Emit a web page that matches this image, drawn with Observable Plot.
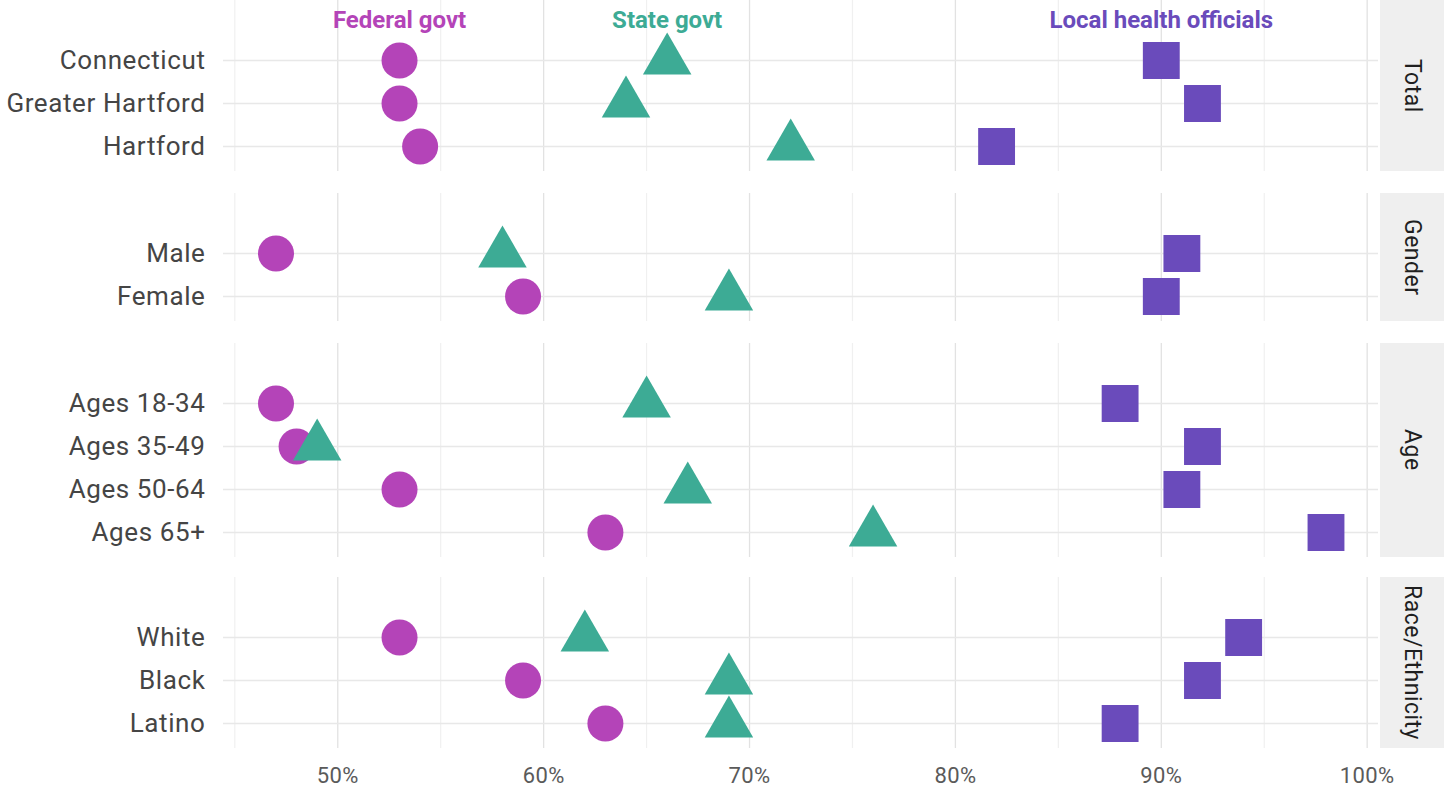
<!DOCTYPE html>
<html><head><meta charset="utf-8">
<script src="https://cdn.jsdelivr.net/npm/d3@7"></script>
<script src="https://cdn.jsdelivr.net/npm/@observablehq/plot@0.6"></script>
<style>
body{margin:0;background:#fff;font-family:Roboto,"Noto Sans",sans-serif;}
#chart{width:1444px;}
.row{display:flex;align-items:flex-start;}
.row svg{display:block;}
.strip{width:64px;margin-left:2px;background:#efefef;display:flex;align-items:center;justify-content:center;box-sizing:border-box;overflow:hidden;}
.strip span{writing-mode:vertical-rl;font-size:23px;letter-spacing:0.5px;color:#1f1f1f;font-family:Roboto,sans-serif;white-space:nowrap;}
g[aria-label="y-axis tick label"] text{letter-spacing:0.6px;}
g[aria-label="x-axis tick label"] text{letter-spacing:0.4px;}
g[aria-label="series-label"] text{letter-spacing:0.6px;}
</style></head><body><div id="chart"></div>
<script>
// ---- data ----
const groups = ["Total", "Gender", "Age", "Race/Ethnicity"];
const categories = ["Connecticut", "Greater Hartford", "Hartford", "Male", "Female",
  "Ages 18-34", "Ages 35-49", "Ages 50-64", "Ages 65+", "White", "Black", "Latino"];
const categoryGroup = ["Total", "Total", "Total", "Gender", "Gender",
  "Age", "Age", "Age", "Age", "Race/Ethnicity", "Race/Ethnicity", "Race/Ethnicity"];
const federal = [53, 53, 54, 47, 59, 47, 48, 53, 63, 53, 59, 63];
const state   = [66, 64, 72, 58, 69, 65, 49, 67, 76, 62, 69, 69];
const local   = [90, 92, 82, 91, 90, 88, 92, 91, 98, 94, 92, 88];
const seriesNames = ["Federal govt", "State govt", "Local health officials"];
const seriesColors = ["#b444b8", "#3dab95", "#6a4bbb"];
const xTicks = [50, 60, 70, 80, 90, 100];
const xMinorTicks = [45, 55, 65, 75, 85, 95];

const seriesValues = [federal, state, local];
const rows = categories.flatMap((c, i) => seriesNames.map((s, k) => ({
  cat: c, group: categoryGroup[i], series: s, value: seriesValues[k][i]
})));
const labelRow = " ";
const labels = seriesNames.map((s, k) => ({series: s, value: seriesValues[k][0], cat: labelRow}));

// ---- layout ----
const STEP = 43, TOP = 17, BOTTOM = 25, AXIS = 49;
const GAPS = [22, 22, 20];
const symbols = {"Federal govt": ["circle", 18], "State govt": ["triangle", 18], "Local health officials": ["square", 20.8]};
const chart = document.getElementById("chart");

groups.forEach((g, gi) => {
  const last = gi === groups.length - 1;
  const cats = categories.filter((c, i) => categoryGroup[i] === g);
  const n = cats.length;
  const panelH = TOP + n * STEP + BOTTOM;
  const data = rows.filter(d => d.group === g);
  const marks = [
    Plot.gridX(xMinorTicks, {stroke: "#f0f0f0", strokeOpacity: 1, strokeWidth: 1.2}),
    Plot.gridX(xTicks, {stroke: "#e2e2e2", strokeOpacity: 1, strokeWidth: 1.3}),
    Plot.gridY(cats, {stroke: "#e8e8e8", strokeOpacity: 1, strokeWidth: 1.3}),
    Plot.axisY(cats, {tickSize: 0, tickPadding: 18, fontSize: 26, fill: "#454545", label: null})
  ];
  seriesNames.forEach((s, k) => {
    const [sym, r] = symbols[s];
    marks.push(Plot.dot(data.filter(d => d.series === s), {x: "value", y: "cat", symbol: sym, r, fill: seriesColors[k], stroke: "none"}));
  });
  if (gi === 0) {
    marks.push(Plot.text(labels, {x: "value", y: "cat", text: "series", fill: (d) => seriesColors[seriesNames.indexOf(d.series)],
      fontSize: 24, fontWeight: "bold", dy: 3, ariaLabel: "series-label"}));
  }
  if (last) {
    marks.push(Plot.axisX(xTicks, {tickSize: 0, tickPadding: 19, fontSize: 22, fill: "#5a5a5a", tickFormat: d => d + "%", label: null}));
  }
  const svg = Plot.plot({
    width: 1378,
    height: panelH + (last ? AXIS : 0),
    marginLeft: 223, marginRight: 0, marginTop: 0, marginBottom: last ? AXIS : 0,
    style: {fontFamily: "Roboto, sans-serif", overflow: "visible"},
    x: {domain: [44.45, 100.55], axis: null},
    y: {type: "point", domain: [labelRow, ...cats], range: [TOP, TOP + n * STEP], padding: 0, axis: null},
    marks
  });
  const row = document.createElement("div");
  row.className = "row";
  row.appendChild(svg);
  const strip = document.createElement("div");
  strip.className = "strip";
  strip.style.height = panelH + "px";
  const span = document.createElement("span");
  span.textContent = g;
  strip.appendChild(span);
  row.appendChild(strip);
  chart.appendChild(row);
  if (!last) {
    const gap = document.createElement("div");
    gap.style.height = GAPS[gi] + "px";
    chart.appendChild(gap);
  }
});
</script></body></html>
